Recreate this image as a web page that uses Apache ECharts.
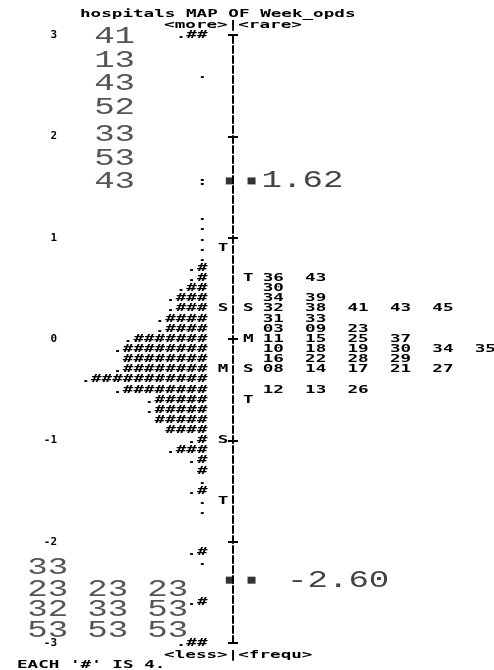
<!DOCTYPE html>
<html><head><meta charset="utf-8">
<script src="https://cdn.jsdelivr.net/npm/echarts@6/dist/echarts.min.js"></script>
<style>html,body{margin:0;padding:0;background:#fff}#c{width:494px;height:670px}</style>
</head><body><div id="c"></div>
<script>
// ---- data ----
const tickLabels = {'-3':'-3','-2':'-2','-1':'-1','0':'0','1':'1','2':'2','3':'3'};
const personLogit  = [3.0, 2.6, 1.55, 1.2, 1.1, 1.0, 0.9, 0.8, 0.7, 0.6, 0.5, 0.4, 0.3, 0.2, 0.1, 0.0, -0.1, -0.2, -0.3, -0.4, -0.5, -0.6, -0.7, -0.8, -0.9, -1.0, -1.1, -1.2, -1.3, -1.4, -1.5, -1.6, -1.7, -2.1, -2.2, -2.6, -3.0];
const personLead   = ['.', '.', ':', '.', '.', '.', '.', '.', '.', '.', '.', '.', '.', '.', '.', '.', '.', '', '.', '.', '.', '.', '.', '', '', '.', '.', '.', '', '.', '.', '.', '.', '.', '.', '.', '.'];
const personHashes = [2, 0, 0, 0, 0, 0, 0, 0, 1, 1, 2, 3, 3, 4, 4, 7, 8, 8, 8, 11, 8, 5, 5, 5, 4, 1, 3, 1, 1, 0, 1, 0, 0, 1, 0, 1, 2];
const itemLogit = [0.6, 0.6, 0.5, 0.4, 0.4, 0.3, 0.3, 0.3, 0.3, 0.3, 0.2, 0.2, 0.1, 0.1, 0.1, 0.0, 0.0, 0.0, 0.0, -0.1, -0.1, -0.1, -0.1, -0.1, -0.1, -0.2, -0.2, -0.2, -0.2, -0.3, -0.3, -0.3, -0.3, -0.3, -0.5, -0.5, -0.5];
const itemLabel = ['36', '43', '30', '34', '39', '32', '38', '41', '43', '45', '31', '33', '03', '09', '23', '11', '15', '25', '37', '10', '18', '19', '30', '34', '35', '16', '22', '28', '29', '08', '14', '17', '21', '27', '12', '13', '26'];
const personMarkLogit = [0.9, 0.3, -0.3, -1.0, -1.6];
const personMarkText  = ['T', 'S', 'M', 'S', 'T'];
const itemMarkLogit = [0.6, 0.3, 0.0, -0.3, -0.6];
const itemMarkText  = ['T', 'S', 'M', 'S', 'T'];
const topNumText  = ['41', '13', '43', '52', '33', '53', '43'];
const topNumLogit = [2.98, 2.75, 2.52, 2.28, 2.02, 1.78, 1.55];
const bottomNumText  = ['33', '23', '23', '23', '32', '33', '53', '53', '53', '53'];
const bottomNumLogit = [-2.26, -2.47, -2.47, -2.47, -2.67, -2.67, -2.67, -2.88, -2.88, -2.88];
const bottomNumCol   = [0, 0, 1, 2, 0, 1, 2, 0, 1, 2];
const meanLogit = [1.56, -2.38];
const meanLabel = ['1.62', '-2.60'];

// ---- layout / style ----
const CW = 10.6;            // px per character column
const AXIS_X = 233;
const XMAX = 24;
const GRID_W = XMAX * CW;
const MONO = 'bold 11px "DejaVu Sans Mono"';
const SX = 1.6;
const BIG = '24px "Liberation Mono"';
const BSX = 1.42;
const meanTextCol = [2.7, 5.1];

function textSeries(name, data, font, sx, color, align) {
  return {
    type: 'custom', name: name, coordinateSystem: 'cartesian2d', silent: true, clip: false,
    data: data.map(d => [d[0], d[1]]),
    encode: {x: 0, y: 1},
    renderItem: function (params, api) {
      const p = api.coord([api.value(0), api.value(1)]);
      return {type: 'text', x: p[0], y: p[1], scaleX: sx,
        style: {text: data[params.dataIndex][2], font: font, fill: color, align: align, verticalAlign: 'middle'}};
    }
  };
}

const personData = personLogit.map((v, i) => [-2.4, v, personLead[i] + '#'.repeat(personHashes[i])]);
const colCount = {};
const itemData = itemLogit.map((v, i) => {
  const k = String(v); colCount[k] = (colCount[k] || 0);
  const c = colCount[k]++;
  return [2.8 + 4 * c, v, itemLabel[i]];
});
const pMarkData = personMarkLogit.map((v, i) => [-0.95, v, personMarkText[i]]);
const iMarkData = itemMarkLogit.map((v, i) => [1.45, v, itemMarkText[i]]);
const topNumData = topNumText.map((t, i) => [-13.1, topNumLogit[i], t]);
const botNumData = bottomNumText.map((t, i) => [-19.4 + bottomNumCol[i] * 5.66, bottomNumLogit[i], t]);
const meanTextData = meanLabel.map((t, i) => [meanTextCol[i], meanLogit[i], t]);
const squareData = [];
meanLogit.forEach(v => { squareData.push([-0.3, v]); squareData.push([1.75, v]); });

const chart = echarts.init(document.getElementById('c'), null, {renderer: 'canvas'});
const yBase = {type: 'value', min: -3, max: 3, interval: 1, splitLine: {show: false}};
chart.setOption({
  animation: false,
  backgroundColor: '#fff',
  grid: {left: AXIS_X, width: GRID_W, top: 35, bottom: 27, containLabel: false, outerBoundsMode: 'none'},
  xAxis: {type: 'value', min: 0, max: XMAX, show: false},
  yAxis: [
    Object.assign({}, yBase, {
      position: 'left',
      axisLine: {show: true, onZero: false, lineStyle: {color: '#000', width: 2, type: [7, 3]}},
      axisTick: {show: true, length: 5, lineStyle: {color: '#000', width: 2}},
      axisLabel: {margin: 176, color: '#000', fontFamily: 'DejaVu Sans Mono', fontWeight: 'bold', fontSize: 11,
        formatter: v => tickLabels[String(v)] || String(v)}
    }),
    Object.assign({}, yBase, {
      position: 'right',
      offset: -GRID_W,
      axisLine: {show: false, onZero: false},
      axisTick: {show: true, length: 5, lineStyle: {color: '#000', width: 2}},
      axisLabel: {show: false}
    })
  ],
  graphic: [
    {type: 'text', x: 80, y: 14, scaleX: SX, style: {text: 'hospitals MAP OF Week_opds', font: MONO, fill: '#000', verticalAlign: 'middle'}},
    {type: 'text', x: AXIS_X - 6.5 * CW, y: 25, scaleX: SX, style: {text: '<more>|<rare>', font: MONO, fill: '#000', verticalAlign: 'middle'}},
    {type: 'text', x: AXIS_X - 6.5 * CW, y: 655, scaleX: SX, style: {text: '<less>|<frequ>', font: MONO, fill: '#000', verticalAlign: 'middle'}},
    {type: 'text', x: 17, y: 665, scaleX: SX, style: {text: "EACH '#' IS 4.", font: MONO, fill: '#000', verticalAlign: 'middle'}}
  ],
  series: [
    textSeries('persons', personData, MONO, SX, '#000', 'right'),
    textSeries('items', itemData, MONO, SX, '#000', 'left'),
    textSeries('personMarks', pMarkData, MONO, SX, '#000', 'center'),
    textSeries('itemMarks', iMarkData, MONO, SX, '#000', 'center'),
    textSeries('topNums', topNumData, BIG, BSX, '#555', 'left'),
    textSeries('bottomNums', botNumData, BIG, BSX, '#555', 'left'),
    textSeries('meanText', meanTextData, BIG, BSX, '#444', 'left'),
    {type: 'scatter', name: 'means', data: squareData, symbol: 'rect', symbolSize: [8, 7],
      itemStyle: {color: '#000'}, silent: true, clip: false}
  ]
});
</script>
</body></html>
